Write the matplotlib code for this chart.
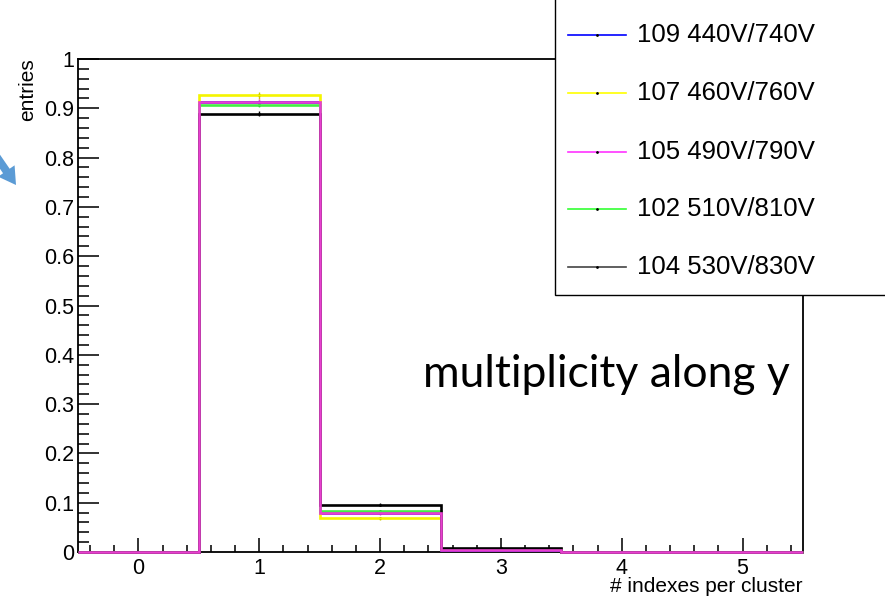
import matplotlib
matplotlib.use("Agg")
import matplotlib.pyplot as plt
from matplotlib.lines import Line2D
from matplotlib.patches import Rectangle, FancyArrow
from matplotlib.ticker import MultipleLocator

plt.rcParams["font.family"] = ["Liberation Sans", "DejaVu Sans"]

# histogram data: bins centred at 0..5
edges = [-0.5, 0.5, 1.5, 2.5, 3.5, 4.5, 5.5]
centers = [0, 1, 2, 3, 4, 5]
labels = ["109 440V/740V", "107 460V/760V", "105 490V/790V", "102 510V/810V", "104 530V/830V"]
colors = ["#0000ff", "#f5f500", "#e83fd0", "#44ee44", "#000000"]
legend_colors = ["#0000ff", "#ffff00", "#ff33ff", "#33ff33", "#444444"]
values = [
    [0.0, 0.912, 0.080, 0.005, 0.001, 0.0],   # 109
    [0.0, 0.926, 0.068, 0.006, 0.0, 0.0],     # 107
    [0.0, 0.913, 0.079, 0.005, 0.001, 0.0],   # 105
    [0.0, 0.907, 0.083, 0.007, 0.0, 0.0],     # 102
    [0.0, 0.889, 0.096, 0.009, 0.0, 0.0],     # 104
]
errors = [
    [0.0, 0.004, 0.003, 0.001, 0.0, 0.0],
    [0.0, 0.008, 0.004, 0.001, 0.0, 0.0],
    [0.0, 0.005, 0.003, 0.001, 0.0, 0.0],
    [0.0, 0.005, 0.003, 0.001, 0.0, 0.0],
    [0.0, 0.005, 0.003, 0.001, 0.0, 0.0],
]
draw_order = [0, 1, 3, 4, 2]

W, H = 885, 599
fig = plt.figure(figsize=(W / 100, H / 100), dpi=100)
fig.patch.set_facecolor("white")
ax = fig.add_axes([78 / W, 1 - 552 / H, (803 - 78) / W, (552 - 59) / H])

for k, i in enumerate(draw_order):
    ax.stairs(values[i], edges, color=colors[i], lw=1.9, baseline=None,
              zorder=3 + k * 0.1, clip_on=False)
    ax.errorbar(centers[1:4], values[i][1:4], yerr=errors[i][1:4], fmt="none",
                ecolor=colors[i] if i != 1 else "#cccc00", elinewidth=1.0, zorder=2.9)
    ax.plot(centers[1:4], values[i][1:4], ls="none", marker="o", ms=1.0, color="black", zorder=2.9)

ax.set_xlim(-0.5, 5.5)
ax.set_ylim(0, 1)
ax.xaxis.set_major_locator(MultipleLocator(1))
ax.xaxis.set_minor_locator(MultipleLocator(0.2))
ax.yaxis.set_minor_locator(MultipleLocator(0.02))
ax.set_yticks([0, 0.1, 0.2, 0.3, 0.4, 0.5, 0.6, 0.7, 0.8, 0.9, 1.0])
ax.set_yticklabels(["0", "0.1", "0.2", "0.3", "0.4", "0.5", "0.6", "0.7", "0.8", "0.9", "1"])
ax.tick_params(axis="both", which="both", direction="in", top=False, right=False,
               labelsize=15.5, width=1.3, color="#222222")
ax.tick_params(axis="y", which="major", length=15, pad=3)
ax.tick_params(axis="y", which="minor", length=8)
ax.tick_params(axis="x", which="major", length=10, pad=4)
ax.tick_params(axis="x", which="minor", length=5)
for s in ax.spines.values():
    s.set_linewidth(1.3)
    s.set_zorder(2.5)

fig.text(28 / W, 1 - 58 / H, "entries", rotation=90, ha="center", va="top", fontsize=15)
fig.text(802 / W, 1 - 587 / H, "# indexes per cluster", ha="right", va="center", fontsize=15)

ax.text(0.982, 0.335, "multiplicity along y", transform=ax.transAxes, ha="right",
        va="baseline", fontsize=32, family=["Lato", "DejaVu Sans"])

# legend box hanging off the top-right corner
fig.add_artist(Rectangle((555 / W, 1 - 295 / H), 0.5, 0.6, transform=fig.transFigure,
                         facecolor="white", edgecolor="black", lw=1.0, zorder=10))
legend_y = [35, 93, 152, 209, 267]
for lab, c, y in zip(labels, legend_colors, legend_y):
    fy = 1 - y / H
    fig.add_artist(Line2D([568 / W, 626 / W], [fy, fy], transform=fig.transFigure,
                          color=c, lw=1.2, zorder=11))
    fig.add_artist(Line2D([597 / W], [fy], transform=fig.transFigure, marker="o", ms=1.0,
                          color="black", zorder=12))
    fig.text(637 / W, fy, lab, ha="left", va="center", fontsize=18.5, zorder=12)

# blue arrow at the left edge
fig.add_artist(FancyArrow(-0.15, 4.59, 0.31, -0.45, width=0.08, head_width=0.2,
                          head_length=0.17, length_includes_head=True,
                          transform=fig.dpi_scale_trans, color="#5b9bd5", lw=0, zorder=10))

fig.savefig("out.png", dpi=100, facecolor="white")
